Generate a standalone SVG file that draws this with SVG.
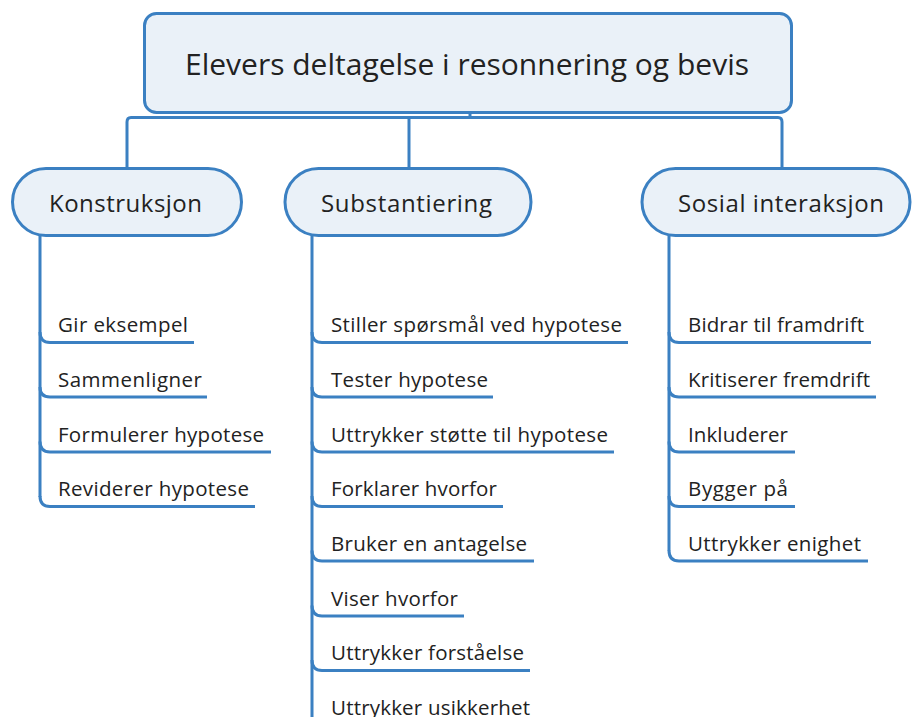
<svg xmlns="http://www.w3.org/2000/svg" width="912" height="717" viewBox="0 0 912 717">
<style>
.box{fill:#eaf1f8;stroke:#3b80c2;stroke-width:3}
.con{fill:none;stroke:#3b80c2;stroke-width:3;stroke-linecap:butt}
text{font-family:"Open Sans","Noto Sans","DejaVu Sans",sans-serif;fill:#222}
.t{font-size:30px}
.b{font-size:24px}
.i{font-size:20.5px}
</style>
<rect width="912" height="717" fill="#fff"/>
<g id="connectors">
<path class="con" d="M470,112 V117"/>
<path class="con" d="M127,168 V122 Q127,117.5 131,117.5 H778 Q782,117.5 782,122 V168"/>
<path class="con" d="M409,117.5 V168"/>
<path class="con" d="M40,236 V497"/>
<path class="con" d="M40,332 Q40,342.5 50,342.5 H194"/>
<path class="con" d="M40,387 Q40,397 50,397 H207"/>
<path class="con" d="M40,441.5 Q40,452 50,452 H271"/>
<path class="con" d="M40,496 Q40,506.5 50,506.5 H255"/>
<path class="con" d="M312,236 V717"/>
<path class="con" d="M312,332 Q312,342.5 322,342.5 H628"/>
<path class="con" d="M312,387 Q312,397 322,397 H493"/>
<path class="con" d="M312,441.5 Q312,452 322,452 H614"/>
<path class="con" d="M312,496 Q312,506.5 322,506.5 H503"/>
<path class="con" d="M312,550.5 Q312,561 322,561 H534"/>
<path class="con" d="M312,605.5 Q312,616 322,616 H464"/>
<path class="con" d="M312,660 Q312,670.5 322,670.5 H530"/>
<path class="con" d="M669,236 V551"/>
<path class="con" d="M669,332 Q669,342.5 679,342.5 H871"/>
<path class="con" d="M669,387 Q669,397 679,397 H876"/>
<path class="con" d="M669,441.5 Q669,452 679,452 H795"/>
<path class="con" d="M669,496 Q669,506.5 679,506.5 H795"/>
<path class="con" d="M669,550.5 Q669,561 679,561 H868"/>
</g>
<g id="root">
<rect class="box" x="144.5" y="13.5" width="647" height="99" rx="12"/>
<text class="t" x="185" y="75" textLength="564">Elevers deltagelse i resonnering og bevis</text>
</g>
<g id="konstruksjon">
<rect class="box" x="12.5" y="168.5" width="229" height="67" rx="33.5"/>
<text class="b" x="49" y="212" textLength="153">Konstruksjon</text>
</g>
<g id="substantiering">
<rect class="box" x="285" y="168.5" width="246" height="67" rx="33.5"/>
<text class="b" x="321" y="212" textLength="171">Substantiering</text>
</g>
<g id="sosial">
<rect class="box" x="642" y="168.5" width="268" height="67" rx="33.5"/>
<text class="b" x="678" y="212" textLength="206">Sosial interaksjon</text>
</g>
<g id="k-items" class="i">
<g id="k1"><text class="i" x="58" y="332" textLength="130">Gir eksempel</text></g>
<g id="k2"><text class="i" x="58" y="386.5" textLength="144">Sammenligner</text></g>
<g id="k3"><text class="i" x="58" y="441.5" textLength="206">Formulerer hypotese</text></g>
<g id="k4"><text class="i" x="58" y="496" textLength="191">Reviderer hypotese</text></g>
</g>
<g id="s-items">
<g id="s1"><text class="i" x="331" y="332" textLength="291">Stiller spørsmål ved hypotese</text></g>
<g id="s2"><text class="i" x="331" y="386.5" textLength="157">Tester hypotese</text></g>
<g id="s3"><text class="i" x="331" y="441.5" textLength="277">Uttrykker støtte til hypotese</text></g>
<g id="s4"><text class="i" x="331" y="496" textLength="166">Forklarer hvorfor</text></g>
<g id="s5"><text class="i" x="331" y="550.5" textLength="196">Bruker en antagelse</text></g>
<g id="s6"><text class="i" x="331" y="605.5" textLength="127">Viser hvorfor</text></g>
<g id="s7"><text class="i" x="331" y="660" textLength="193">Uttrykker forståelse</text></g>
<g id="s8"><text class="i" x="331" y="714.5" textLength="199">Uttrykker usikkerhet</text></g>
</g>
<g id="so-items">
<g id="so1"><text class="i" x="688" y="332" textLength="176">Bidrar til framdrift</text></g>
<g id="so2"><text class="i" x="688" y="386.5" textLength="182">Kritiserer fremdrift</text></g>
<g id="so3"><text class="i" x="688" y="441.5" textLength="100">Inkluderer</text></g>
<g id="so4"><text class="i" x="688" y="496" textLength="100">Bygger på</text></g>
<g id="so5"><text class="i" x="688" y="550.5" textLength="173">Uttrykker enighet</text></g>
</g>
</svg>
